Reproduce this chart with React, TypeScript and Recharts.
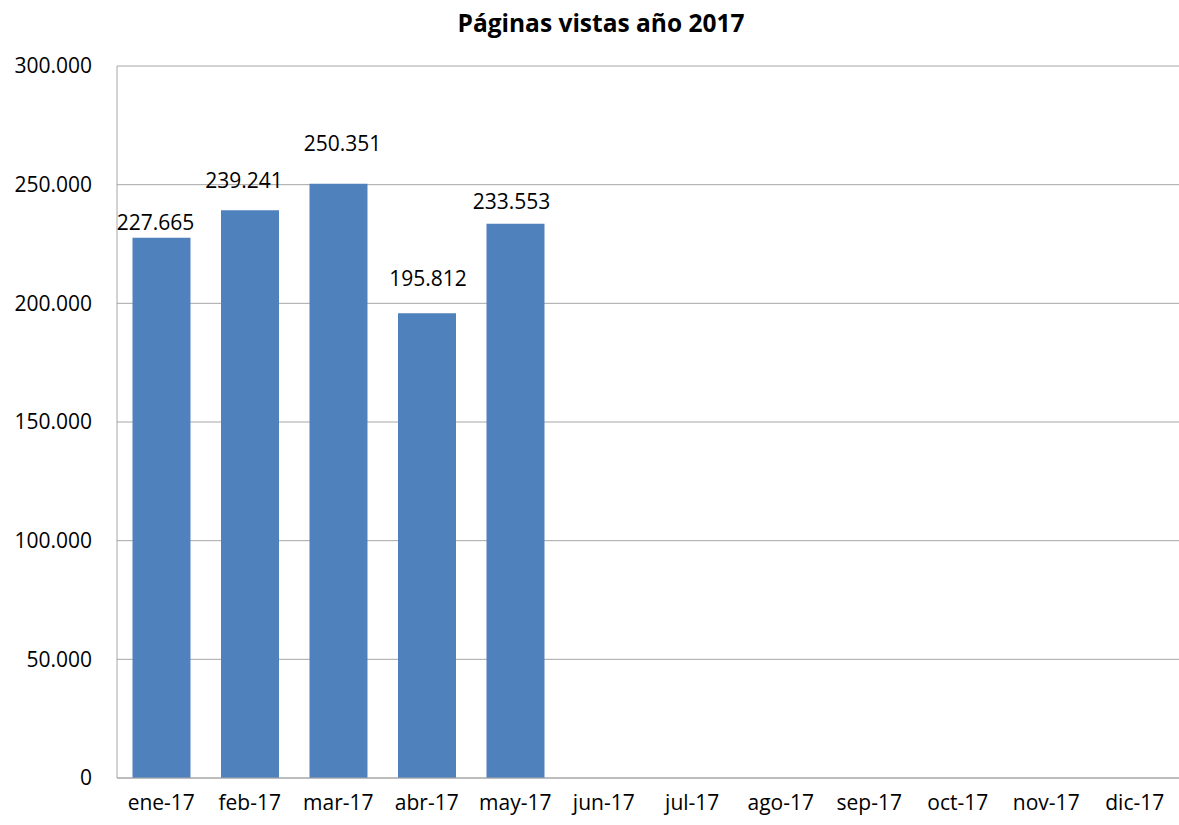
import React from 'react';
import { BarChart, Bar, XAxis, YAxis, CartesianGrid, LabelList } from 'recharts';

const months = ['ene-17', 'feb-17', 'mar-17', 'abr-17', 'may-17', 'jun-17', 'jul-17', 'ago-17', 'sep-17', 'oct-17', 'nov-17', 'dic-17'];
const views: (number | null)[] = [227665, 239241, 250351, 195812, 233553, null, null, null, null, null, null, null];
const yTicks = [0, 50000, 100000, 150000, 200000, 250000, 300000];
// label lift above each bar top (pixels), as placed in the original chart
const labelLift = [16, 30, 41, 35, 23];
const labelShiftX = [-6, -6, 4, 1, -4];

const data = months.map((m, i) => ({ month: m, views: views[i] }));

const fmt = (v: any) => {
  if (v === null || v === undefined) return '';
  const n = Number(v);
  if (n === 0) return '0';
  return n.toLocaleString('de-DE');
};

const FONT = "'Open Sans', 'Noto Sans', sans-serif";

const BarLabel = (props: any) => {
  const { x, y, width, value, index } = props;
  if (value === null || value === undefined) return null;
  const lift = labelLift[index] ?? 16;
  const sx = labelShiftX[index] ?? 0;
  return (
    <text x={x + width / 2 + sx} y={y - lift} textAnchor="middle" dominantBaseline="central"
      fontFamily={FONT} fontSize={21} fill="#000">
      {fmt(value)}
    </text>
  );
};

export default function App() {
  return (
    <div style={{ position: 'absolute', left: 0, top: 0, width: 1179, height: 825, background: '#fff' }}>
      <svg width={1179} height={50} style={{ position: 'absolute', left: 0, top: 0 }}>
        <text x={601} y={22} textAnchor="middle" dominantBaseline="central" fontFamily={FONT} fontWeight="bold" fontSize={24.5} fill="#000">
          Páginas vistas año 2017
        </text>
      </svg>
      <div style={{ position: 'absolute', left: 0, top: 0 }}>
        <BarChart width={1179} height={825} data={data} margin={{ top: 66, right: 0, bottom: 17, left: 0 }} barCategoryGap="17.5%">
          <CartesianGrid vertical={false} stroke="#a6a6a6" />
          <XAxis dataKey="month" tickLine={false} tickSize={0} tickMargin={17} stroke="#a6a6a6"
            tick={{ fill: '#000', fontSize: 21, fontFamily: FONT }} interval={0} />
          <YAxis width={117} domain={[0, 300000]} ticks={yTicks} tickLine={false} tickSize={0} tickMargin={25}
            stroke="#a6a6a6" tickFormatter={fmt} tick={{ fill: '#000', fontSize: 21, fontFamily: FONT }} />
          <Bar dataKey="views" fill="#4F81BD" isAnimationActive={false}>
            <LabelList dataKey="views" content={<BarLabel />} />
          </Bar>
        </BarChart>
      </div>
    </div>
  );
}
